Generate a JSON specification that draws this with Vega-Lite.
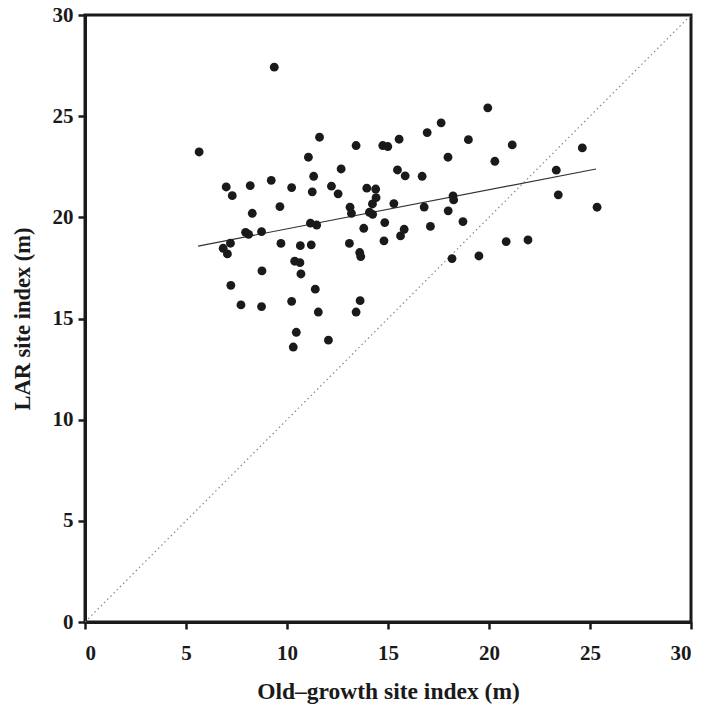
{
  "$schema": "https://vega.github.io/schema/vega-lite/v6.json",
  "width": 606,
  "height": 607,
  "autosize": {"type": "none"},
  "padding": {"left": 85, "top": 15, "right": 20, "bottom": 88},
  "background": "white",
  "config": {
    "view": {"stroke": "#1a1a1a", "strokeWidth": 3},
    "axis": {
      "grid": false,
      "domainColor": "#1a1a1a",
      "domainWidth": 3,
      "tickColor": "#1a1a1a",
      "tickWidth": 2.5,
      "tickSize": 7,
      "labelFont": "Liberation Serif",
      "labelFontWeight": "bold",
      "labelFontSize": 21,
      "labelColor": "#1a1a1a",
      "titleFont": "Liberation Serif",
      "titleFontWeight": "bold",
      "titleColor": "#1a1a1a"
    }
  },
  "datasets": {
    "pts": [
      {"og": 5.65, "lar": 23.23}, {"og": 9.37, "lar": 27.42}, {"og": 11.61, "lar": 23.96}, {"og": 13.42, "lar": 23.55},
      {"og": 14.74, "lar": 23.55}, {"og": 14.99, "lar": 23.5}, {"og": 15.55, "lar": 23.86}, {"og": 16.94, "lar": 24.19},
      {"og": 11.06, "lar": 22.97}, {"og": 12.68, "lar": 22.39}, {"og": 15.47, "lar": 22.34}, {"og": 15.85, "lar": 22.05},
      {"og": 16.69, "lar": 22.03}, {"og": 6.99, "lar": 21.5}, {"og": 7.29, "lar": 21.07}, {"og": 8.18, "lar": 21.57},
      {"og": 9.22, "lar": 21.83}, {"og": 10.23, "lar": 21.47}, {"og": 11.32, "lar": 22.03}, {"og": 11.25, "lar": 21.26},
      {"og": 12.2, "lar": 21.54}, {"og": 12.53, "lar": 21.16}, {"og": 13.95, "lar": 21.44}, {"og": 14.39, "lar": 21.4},
      {"og": 14.41, "lar": 20.97}, {"og": 14.23, "lar": 20.66}, {"og": 15.29, "lar": 20.68}, {"og": 16.79, "lar": 20.51},
      {"og": 8.28, "lar": 20.2}, {"og": 9.65, "lar": 20.53}, {"og": 13.12, "lar": 20.5}, {"og": 13.19, "lar": 20.2},
      {"og": 14.08, "lar": 20.25}, {"og": 14.24, "lar": 20.15}, {"og": 14.84, "lar": 19.74}, {"og": 11.16, "lar": 19.71},
      {"og": 11.47, "lar": 19.62}, {"og": 13.8, "lar": 19.46}, {"og": 15.8, "lar": 19.41}, {"og": 15.62, "lar": 19.08},
      {"og": 17.1, "lar": 19.55}, {"og": 7.95, "lar": 19.26}, {"og": 8.1, "lar": 19.16}, {"og": 8.74, "lar": 19.29},
      {"og": 14.8, "lar": 18.84}, {"og": 7.2, "lar": 18.72}, {"og": 6.84, "lar": 18.47}, {"og": 7.05, "lar": 18.19},
      {"og": 9.7, "lar": 18.71}, {"og": 10.66, "lar": 18.6}, {"og": 11.2, "lar": 18.64}, {"og": 13.09, "lar": 18.71},
      {"og": 13.6, "lar": 18.26}, {"og": 13.65, "lar": 18.06}, {"og": 10.38, "lar": 17.83}, {"og": 10.64, "lar": 17.76},
      {"og": 8.76, "lar": 17.35}, {"og": 10.69, "lar": 17.2}, {"og": 7.22, "lar": 16.64}, {"og": 11.4, "lar": 16.45},
      {"og": 7.72, "lar": 15.67}, {"og": 8.74, "lar": 15.59}, {"og": 10.23, "lar": 15.85}, {"og": 11.55, "lar": 15.32},
      {"og": 13.62, "lar": 15.88}, {"og": 13.42, "lar": 15.32}, {"og": 10.46, "lar": 14.32}, {"og": 12.05, "lar": 13.93},
      {"og": 10.31, "lar": 13.59}, {"og": 19.94, "lar": 25.41}, {"og": 17.63, "lar": 24.67}, {"og": 18.98, "lar": 23.84},
      {"og": 21.15, "lar": 23.58}, {"og": 24.62, "lar": 23.43}, {"og": 17.97, "lar": 22.97}, {"og": 20.29, "lar": 22.77},
      {"og": 23.33, "lar": 22.33}, {"og": 18.22, "lar": 21.06}, {"og": 18.25, "lar": 20.86}, {"og": 23.43, "lar": 21.11},
      {"og": 17.98, "lar": 20.32}, {"og": 25.35, "lar": 20.5}, {"og": 18.71, "lar": 19.79}, {"og": 20.85, "lar": 18.8},
      {"og": 21.93, "lar": 18.88}, {"og": 18.17, "lar": 17.96}, {"og": 19.5, "lar": 18.09}
    ],
    "fit": [{"og": 5.6, "lar": 18.58}, {"og": 25.3, "lar": 22.39}],
    "diag": [{"og": 0, "lar": 0}, {"og": 30, "lar": 30}]
  },
  "layer": [
    {
      "data": {"name": "diag"},
      "mark": {"type": "line", "color": "#888888", "strokeWidth": 1.2, "strokeDash": [1.5, 3], "clip": true},
      "encoding": {
        "x": {"field": "og", "type": "quantitative", "scale": {"domain": [0, 30], "nice": false},
          "axis": {"values": [0, 5, 10, 15, 20, 25, 30], "title": "Old–growth site index (m)", "titleFontSize": 23.5, "labelPadding": 13, "titlePadding": 16}},
        "y": {"field": "lar", "type": "quantitative", "scale": {"domain": [0, 30], "nice": false},
          "axis": {"values": [0, 5, 10, 15, 20, 25, 30], "title": "LAR site index (m)", "titleFontSize": 22.5, "labelPadding": 5, "titlePadding": 18}}
      }
    },
    {
      "data": {"name": "fit"},
      "mark": {"type": "line", "color": "#333333", "strokeWidth": 1.2},
      "encoding": {
        "x": {"field": "og", "type": "quantitative"},
        "y": {"field": "lar", "type": "quantitative"}
      }
    },
    {
      "data": {"name": "pts"},
      "mark": {"type": "circle", "color": "#1a1a1a", "opacity": 1, "size": 78},
      "encoding": {
        "x": {"field": "og", "type": "quantitative"},
        "y": {"field": "lar", "type": "quantitative"}
      }
    }
  ]
}
